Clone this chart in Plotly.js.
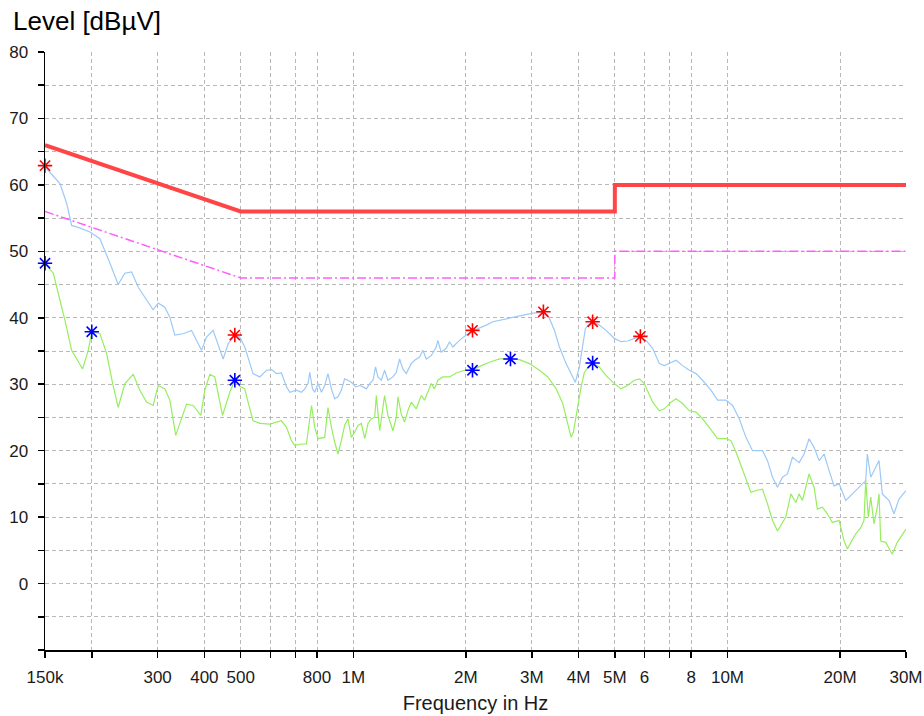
<!DOCTYPE html>
<html>
<head>
<meta charset="utf-8">
<script src="https://cdn.plot.ly/plotly-3.0.1.min.js"></script>
<style>html,body{margin:0;padding:0;background:#fff;}#chart{width:924px;height:716px;}</style>
</head>
<body>
<div id="chart"></div>
<script>
// Limit lines (CISPR class B style)
const qpLimitFreq = [150e3, 500e3, 5e6, 5e6, 30e6];
const qpLimitLevel = [66, 56, 56, 60, 60];
const avLimitFreq = [150e3, 500e3, 5e6, 5e6, 30e6];
const avLimitLevel = [56, 46, 46, 50, 50];

// Peak scan (light blue)
const peakFreq = [150000,152800,164500,171400,176700,184000,197800,210300,223700,235300,245200,255600,266200,280100,291800,301000,313600,323400,333400,350900,369600,392900,405200,422000,435300,448900,463000,482400,497200,512800,539600,562400,586200,604500,623600,642800,663000,677000,704800,727000,741700,757000,765000,778000,788800,805000,822000,838600,855800,874000,891800,910000,929000,948000,967800,988000,1014900,1040200,1061400,1083800,1106100,1128800,1146900,1163300,1188200,1212600,1237300,1276000,1303200,1329800,1356500,1385400,1428600,1458500,1503700,1534300,1567100,1615800,1665700,1682300,1717800,1771300,1807800,1844700,1922300,2003700,2082400,2174300,2266200,2358900,2458000,2667800,2896300,3016700,3221800,3343700,3448500,3555700,3704400,3821200,3921700,4019800,4102200,4171600,4275800,4362100,4543400,4738100,4984600,5194300,5409300,5636800,5851300,6059500,6310600,6576600,6779100,7065100,7288300,7588400,7907200,8240700,8580400,9033400,9409600,9908200,10319000,10752000,11205000,11665000,12406000,12793000,13194000,13604000,14026000,14465000,14917000,15540000,16030000,16520000,17040000,17580000,18120000,18690000,19270000,19880000,20710000,21570000,22480000,23420000,23650000,24150000,24900000,25410000,25940000,27030000,27860000,28740000,30000000];
const peakLevel = [62.8,62.2,60.2,57.2,53.9,53.6,52.9,51.9,48.2,45.0,46.7,46.9,44.6,42.6,41.2,42.2,41.6,40.1,37.4,37.6,38.1,35.1,37.1,38.1,36.1,33.8,36.1,37.4,37.1,35.6,31.6,31.1,32.1,32.2,31.6,31.7,29.6,28.8,29.1,28.8,29.3,30.1,31.8,29.3,28.8,30.1,28.8,29.8,31.6,29.3,27.8,28.1,29.1,30.8,30.6,30.3,29.6,29.8,29.6,29.3,30.1,30.6,32.6,31.1,30.6,32.1,30.6,31.1,31.8,33.8,32.3,31.6,33.1,33.6,34.1,35.1,33.8,34.3,35.6,36.6,34.8,35.4,36.4,35.6,36.6,37.4,38.0,38.4,38.9,39.4,39.6,40.1,40.5,40.7,40.8,39.9,38.1,35.6,33.1,31.6,30.3,32.6,36.1,38.4,39.1,39.4,38.9,38.1,36.9,36.4,36.5,36.9,37.1,36.6,35.4,33.1,32.8,33.3,33.6,32.8,32.1,31.6,30.6,29.1,27.6,27.6,26.8,24.8,22.0,20.0,20.0,18.5,16.0,14.5,16.0,16.5,19.0,18.2,19.5,21.8,20.5,18.5,19.5,17.0,14.7,15.0,12.5,13.5,14.5,15.5,19.5,16.0,17.5,18.5,13.5,12.5,10.5,12.7,14.0];

// Average scan (light green)
const avgFreq = [150000,157900,164500,169600,176700,182200,189100,195700,200000,210300,219200,227500,235300,245200,258100,268900,280100,291800,301000,313600,323400,335400,347400,358300,373300,391300,401000,413600,426500,447200,467800,482400,497200,512800,523300,539600,562400,598200,642800,663000,683500,697400,727000,749500,773300,788800,805000,838600,855800,874000,891800,910000,929000,948000,967800,988000,1008700,1029400,1051100,1072700,1094600,1117800,1140900,1152200,1176200,1212600,1237300,1276000,1303200,1316200,1343600,1371100,1399100,1428600,1473500,1519500,1550500,1582300,1615800,1648400,1682300,1734900,1807800,1883700,1982700,2082400,2197400,2311100,2458000,2630600,2779300,2956100,3143000,3309500,3484600,3628900,3741600,3821200,3875400,3977900,4062200,4145900,4275800,4381000,4543400,4738100,4984600,5194300,5409300,5636800,5817500,5996300,6310600,6576600,6779100,7065100,7288300,7588400,7907200,8240700,8580400,8939000,9409600,9908200,10218000,10540000,10973000,11553000,11911000,12406000,12793000,13194000,13604000,14026000,14323000,14771000,15230000,15540000,15862000,16197000,16520000,17040000,17390000,17934000,18490000,19070000,19880000,20500000,20920000,21360000,22030000,22760000,23170000,23420000,23790000,24150000,24640000,25150000,25410000,25680000,26480000,27570000,28430000,30000000];
const avgLevel = [48.2,46.7,42.6,39.6,35.1,33.8,32.3,35.1,37.9,37.6,34.6,30.1,26.5,30.1,31.5,29.1,27.3,26.8,29.8,29.3,27.6,22.3,25.0,27.0,26.8,25.3,29.1,31.5,31.1,25.3,28.8,30.6,29.7,29.3,27.3,24.5,24.1,24.0,24.5,23.5,21.5,20.8,21.0,21.0,26.8,23.5,21.8,22.0,26.5,23.5,21.3,19.5,21.5,23.8,24.8,22.0,22.8,23.8,24.1,21.8,24.1,24.8,25.0,28.3,23.0,28.3,25.3,23.0,25.0,28.1,25.5,24.3,26.0,27.3,26.3,28.3,27.6,28.8,30.1,29.3,30.6,31.1,31.1,31.7,32.1,32.1,32.8,33.3,33.8,33.8,33.7,33.1,32.1,31.1,29.3,27.1,24.0,22.0,22.8,26.5,29.6,31.8,32.8,33.1,32.6,31.3,30.1,29.3,29.8,30.6,30.8,30.1,27.3,26.0,26.3,27.3,27.8,27.1,26.0,25.8,24.8,23.5,21.8,21.8,21.5,19.8,17.0,13.7,14.0,14.2,12.0,9.5,7.9,9.2,10.0,13.5,12.2,13.5,12.5,14.5,16.5,14.5,11.2,11.5,10.5,9.2,9.5,6.4,5.2,6.2,7.5,8.5,9.5,15.5,10.0,13.0,9.0,11.5,13.5,6.4,6.2,4.4,6.2,8.2];

// Final measurement markers
const qpMarkFreq = [150000, 482400, 2082400, 3221800, 4362100, 5851300];
const qpMarkLevel = [62.9, 37.4, 38.1, 40.9, 39.4, 37.2];
const avMarkFreq = [150000, 200000, 482400, 2082400, 2630600, 4362100];
const avMarkLevel = [48.2, 37.9, 30.6, 32.1, 33.8, 33.2];

// Axis ticks
const xTickVals = [150e3,200e3,300e3,400e3,500e3,600e3,700e3,800e3,1e6,2e6,3e6,4e6,5e6,6e6,7e6,8e6,10e6,20e6,30e6];
const xTickText = ['150k','','300','400','500','','','800','1M','2M','3M','4M','5M','6','','8','10M','20M','30M'];
const yTickVals = [-10,-5,0,5,10,15,20,25,30,35,40,45,50,55,60,65,70,75,80];
const yTickText = ['','','0','','10','','20','','30','','40','','50','','60','','70','','80'];

const traces = [
  {x: avLimitFreq, y: avLimitLevel, mode:'lines', line:{color:'#ff5cff', width:1.5, dash:'9px,3px,2px,3px'}, hoverinfo:'skip'},
  {x: qpLimitFreq, y: qpLimitLevel, mode:'lines', line:{color:'#ff4545', width:4}, hoverinfo:'skip'},
  {x: peakFreq, y: peakLevel, mode:'lines', line:{color:'#9cc9f7', width:1.2}},
  {x: avgFreq, y: avgLevel, mode:'lines', line:{color:'#96ee5e', width:1.2}},
  {x: qpMarkFreq, y: qpMarkLevel, mode:'markers', cliponaxis:false, marker:{symbol:'asterisk-open', size:12, color:'#ff0000', line:{color:'#ff0000', width:1.6}}},
  {x: avMarkFreq, y: avMarkLevel, mode:'markers', cliponaxis:false, marker:{symbol:'asterisk-open', size:12, color:'#0000ff', line:{color:'#0000ff', width:1.6}}}
];

// range padded by a negligible amount so that edge points are not dropped
const xr = [Math.log10(149990), Math.log10(30002000)];
const gridCol = '#b8b8b8';
const layout = {
  width: 924, height: 716,
  margin: {l:45, r:18, t:52, b:66, pad:0},
  paper_bgcolor:'#ffffff', plot_bgcolor:'#ffffff',
  showlegend:false,
  font: {family:'"Liberation Sans", Arial, sans-serif', color:'#1a1a1a'},
  title: {text:'Level [dBµV]', x:13/924, xref:'container', xanchor:'left', y:1-21/716, yref:'container', yanchor:'middle', font:{size:26, color:'#000'}},
  xaxis: {
    type:'log', range: xr, tickmode:'array', tickvals: xTickVals, ticktext: xTickText,
    ticks:'outside', ticklen:6, tickwidth:1.5, tickcolor:'#000',
    showline:true, linecolor:'#000', linewidth:1.5, mirror:false,
    showgrid:true, gridcolor:gridCol, gridwidth:1, griddash:'4px,3px', zeroline:false,
    tickfont:{size:17, color:'#1a1a1a'}, ticklabelstandoff:5,
    title:{text:'Frequency in Hz', font:{size:20, color:'#1a1a1a'}, standoff:10}
  },
  yaxis: {
    range:[-10,80], tickmode:'array', tickvals: yTickVals, ticktext: yTickText,
    ticks:'outside', ticklen:6, tickwidth:1.5, tickcolor:'#000',
    showline:true, linecolor:'#000', linewidth:1.5,
    showgrid:true, gridcolor:gridCol, gridwidth:1, griddash:'4px,3px', zeroline:false,
    tickfont:{size:17, color:'#1a1a1a'}, ticklabelstandoff:6
  },
  xaxis2: {
    type:'log', range: xr, overlaying:'x', anchor:'y', side:'bottom', tickmode:'array', tickvals: xTickVals,
    ticks:'inside', ticklen:6, tickwidth:1.5, tickcolor:'#000', showticklabels:false, showgrid:false, showline:false, zeroline:false
  },
  yaxis2: {
    range:[-10,80], overlaying:'y', anchor:'x', side:'left', tickmode:'array', tickvals: yTickVals,
    ticks:'inside', ticklen:6, tickwidth:1.5, tickcolor:'#000', showticklabels:false, showgrid:false, showline:false, zeroline:false
  }
};

Plotly.newPlot('chart', traces, layout, {displayModeBar:false, staticPlot:true});
</script>
</body>
</html>
